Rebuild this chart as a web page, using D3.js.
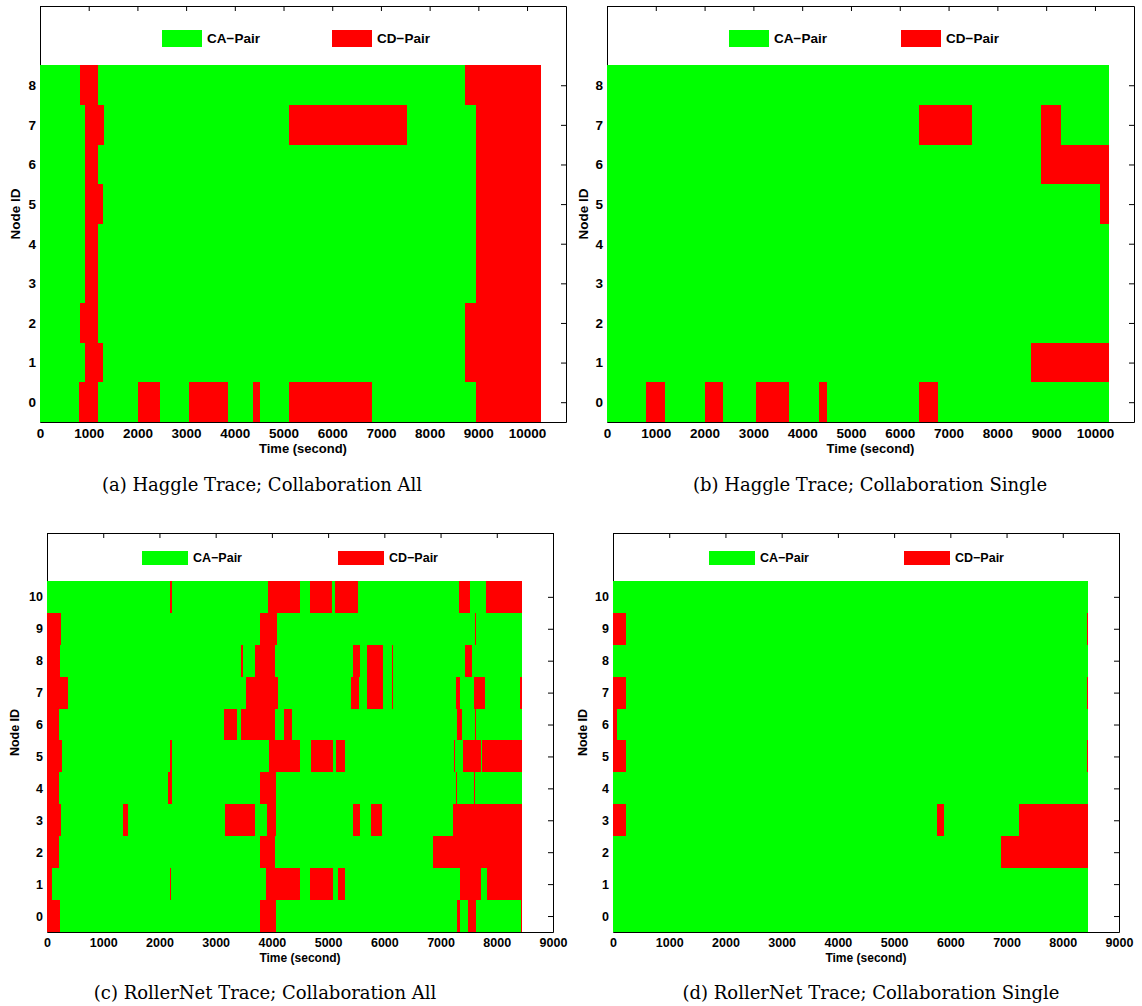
<!DOCTYPE html>
<html>
<head>
<meta charset="utf-8">
<script src="https://cdn.jsdelivr.net/npm/d3@7"></script>
<style>
  body { margin: 0; background: #fff; }
  svg { display: block; }
</style>
</head>
<body>
<svg id="fig" width="1142" height="1006"></svg>
<script>
// ---------------------------------------------------------------
// Collaboration state of each node over time.
// Every node is a CA-pair (green) for the whole trace, except the
// CD-pair intervals (red) listed below as [node, start, end] seconds.
// ---------------------------------------------------------------
const haggleNodes = d3.range(0, 9);      // node IDs 0..8
const rollerNodes = d3.range(0, 11);     // node IDs 0..10
const haggleTraceEnd = 10280;            // seconds
const rollerTraceEnd = 8445;             // seconds

const haggleXTicks = d3.range(0, 10001, 1000);
const rollerXTicks = d3.range(0, 9001, 1000);

const legendLabels = ["CA\u2212Pair", "CD\u2212Pair"];
const xAxisTitle = "Time (second)";
const yAxisTitle = "Node ID";
const captions = [
  "(a) Haggle Trace; Collaboration All",
  "(b) Haggle Trace; Collaboration Single",
  "(c) RollerNet Trace; Collaboration All",
  "(d) RollerNet Trace; Collaboration Single"
];

// (a) Haggle, collaboration with all nodes
const haggleAllCD = [
  [8, 821, 1184], [8, 8727, haggleTraceEnd],
  [7, 924, 1314], [7, 5113, 7530], [7, 8953, haggleTraceEnd],
  [6, 924, 1184], [6, 8953, haggleTraceEnd],
  [5, 924, 1294], [5, 8953, haggleTraceEnd],
  [4, 924, 1184], [4, 8953, haggleTraceEnd],
  [3, 924, 1184], [3, 8953, haggleTraceEnd],
  [2, 821, 1184], [2, 8727, haggleTraceEnd],
  [1, 924, 1294], [1, 8727, haggleTraceEnd],
  [0, 801, 1184], [0, 2012, 2464], [0, 3060, 3854], [0, 4374, 4517],
  [0, 5113, 6811], [0, 8953, haggleTraceEnd]
];

// (b) Haggle, collaboration with a single node
const haggleSingleCD = [
  [7, 6394, 7490], [7, 8904, 9312],
  [6, 8904, haggleTraceEnd],
  [5, 10108, haggleTraceEnd],
  [1, 8680, haggleTraceEnd],
  [0, 802, 1190], [0, 2008, 2374], [0, 3047, 3735], [0, 4353, 4510],
  [0, 6394, 6782]
];

// (c) RollerNet, collaboration with all nodes
const rollerAllCD = [
  [10, 2186, 2216], [10, 3933, 4497], [10, 4676, 5068], [10, 5121, 5531],
  [10, 7330, 7528], [10, 7813, rollerTraceEnd],
  [9, 0, 255], [9, 3790, 4087], [9, 7615, 7635],
  [8, 0, 238], [8, 3458, 3481], [8, 3695, 4052], [8, 5437, 5567],
  [8, 5692, 5977], [8, 6132, 6150], [8, 7439, 7564],
  [7, 0, 380], [7, 3535, 4100], [7, 5406, 5544], [7, 5692, 5977],
  [7, 6132, 6150], [7, 7280, 7349], [7, 7599, 7792], [7, 8419, rollerTraceEnd],
  [6, 0, 219], [6, 3143, 3375], [6, 3446, 4052], [6, 4212, 4355],
  [6, 7296, 7385], [6, 7617, 7635],
  [5, 0, 273], [5, 2186, 2216], [5, 3950, 4497], [5, 4693, 5085],
  [5, 5139, 5300], [5, 7242, 7258], [5, 7400, 7724], [5, 7741, rollerTraceEnd],
  [4, 0, 219], [4, 2144, 2216], [4, 3790, 4070], [4, 7282, 7296], [4, 7599, 7617],
  [3, 0, 255], [3, 1360, 1432], [3, 3161, 3695], [3, 3909, 4070],
  [3, 5442, 5567], [3, 5763, 5959], [3, 7225, rollerTraceEnd],
  [2, 0, 219], [2, 3790, 4052], [2, 6868, rollerTraceEnd],
  [1, 0, 87], [1, 2190, 2200], [1, 3891, 4497], [1, 4681, 5085],
  [1, 5175, 5300], [1, 7349, 7724], [1, 7830, rollerTraceEnd],
  [0, 0, 237], [0, 3790, 4070], [0, 7296, 7349], [0, 7492, 7635],
  [0, 8430, rollerTraceEnd]
];

// (d) RollerNet, collaboration with a single node
const rollerSingleCD = [
  [9, 0, 227], [9, 8425, rollerTraceEnd],
  [7, 0, 227], [7, 8425, rollerTraceEnd],
  [6, 0, 65],
  [5, 0, 240], [5, 8425, rollerTraceEnd],
  [3, 0, 227], [3, 5756, 5886], [3, 7216, rollerTraceEnd],
  [2, 6898, rollerTraceEnd]
];

// ---------------------------------------------------------------
// Layout and styling
// ---------------------------------------------------------------
const CA_COLOR = "#00ff00";
const CD_COLOR = "#ff0000";
const SANS = "'Liberation Sans', Arial, Helvetica, sans-serif";
const SERIF = "'DejaVu Serif', 'Liberation Serif', serif";

const panels = [
  { cd: haggleAllCD, nodes: haggleNodes, traceEnd: haggleTraceEnd, xTicks: haggleXTicks,
    xMax: 10800, yMax: 10, left: 40, top: 6, w: 526, h: 416, font: 13.5,
    legend: { dx: [122, 292], sw: 40, sh: 17, cy: 32 },
    caption: captions[0], capX: 262, capY: 491, ylabX: 15 },
  { cd: haggleSingleCD, nodes: haggleNodes, traceEnd: haggleTraceEnd, xTicks: haggleXTicks,
    xMax: 10800, yMax: 10, left: 607, top: 6, w: 527, h: 416, font: 13.5,
    legend: { dx: [122, 294], sw: 40, sh: 17, cy: 32 },
    caption: captions[1], capX: 870, capY: 491, ylabX: 583 },
  { cd: rollerAllCD, nodes: rollerNodes, traceEnd: rollerTraceEnd, xTicks: rollerXTicks,
    xMax: 9000, yMax: 12, left: 47, top: 533, w: 506, h: 399, font: 12.5,
    legend: { dx: [95, 291], sw: 46, sh: 14, cy: 25 },
    caption: captions[2], capX: 265, capY: 999, ylabX: 15 },
  { cd: rollerSingleCD, nodes: rollerNodes, traceEnd: rollerTraceEnd, xTicks: rollerXTicks,
    xMax: 9000, yMax: 12, left: 613, top: 533, w: 506, h: 399, font: 12.5,
    legend: { dx: [96, 291], sw: 46, sh: 14, cy: 25 },
    caption: captions[3], capX: 871, capY: 999, ylabX: 583 }
];

const svg = d3.select("#fig");

function styleAxis(sel, font) {
  sel.selectAll(".domain").attr("stroke", "#000").attr("stroke-width", 1);
  sel.selectAll(".tick line").attr("stroke", "#000").attr("stroke-width", 1);
  sel.selectAll(".tick text")
    .attr("fill", "#000")
    .style("font-family", SANS)
    .style("font-weight", "bold")
    .style("font-size", font + "px");
}

panels.forEach(p => {
  const g = svg.append("g").attr("transform", `translate(${p.left},${p.top})`);
  const x = d3.scaleLinear().domain([0, p.xMax]).range([0, p.w]);
  const y = d3.scaleLinear().domain([-0.5, p.yMax]).range([p.h, 0]);

  // Axes box with inward ticks on all four sides
  g.append("g").attr("transform", `translate(0,${p.h})`)
    .call(d3.axisBottom(x).tickValues(p.xTicks).tickFormat(d3.format("d"))
      .tickSizeInner(-5).tickSizeOuter(0).tickPadding(6))
    .call(s => styleAxis(s, p.font));
  g.append("g")
    .call(d3.axisTop(x).tickValues(p.xTicks).tickFormat("")
      .tickSizeInner(-5).tickSizeOuter(0))
    .call(s => styleAxis(s, p.font));
  g.append("g")
    .call(d3.axisLeft(y).tickValues(p.nodes).tickFormat(d3.format("d"))
      .tickSizeInner(-5).tickSizeOuter(0).tickPadding(4))
    .call(s => styleAxis(s, p.font));
  g.append("g").attr("transform", `translate(${p.w},0)`)
    .call(d3.axisRight(y).tickValues(p.nodes).tickFormat("")
      .tickSizeInner(-5).tickSizeOuter(0))
    .call(s => styleAxis(s, p.font));

  // CA-pair background for every node over the whole trace
  g.append("g").selectAll("rect").data(p.nodes).join("rect")
    .attr("x", x(0))
    .attr("width", x(p.traceEnd) - x(0))
    .attr("y", d => y(d + 0.5))
    .attr("height", d => y(d - 0.5) - y(d + 0.5))
    .attr("fill", CA_COLOR)
    .attr("shape-rendering", "crispEdges");

  // CD-pair intervals
  g.append("g").selectAll("rect").data(p.cd).join("rect")
    .attr("x", d => x(d[1]))
    .attr("width", d => Math.max(1, x(d[2]) - x(d[1])))
    .attr("y", d => y(d[0] + 0.5))
    .attr("height", d => y(d[0] - 0.5) - y(d[0] + 0.5))
    .attr("fill", CD_COLOR)
    .attr("shape-rendering", "crispEdges");

  // Legend
  const lg = g.append("g");
  [CA_COLOR, CD_COLOR].forEach((c, i) => {
    lg.append("rect")
      .attr("x", p.legend.dx[i]).attr("y", p.legend.cy - p.legend.sh / 2)
      .attr("width", p.legend.sw).attr("height", p.legend.sh)
      .attr("fill", c).attr("shape-rendering", "crispEdges");
    lg.append("text")
      .attr("x", p.legend.dx[i] + p.legend.sw + 5).attr("y", p.legend.cy)
      .attr("dy", "0.35em")
      .style("font-family", SANS).style("font-weight", "bold")
      .style("font-size", p.font + "px")
      .text(legendLabels[i]);
  });

  // Axis titles
  g.append("text")
    .attr("x", p.w / 2).attr("y", p.h + 26)
    .attr("dy", "0.35em").attr("text-anchor", "middle")
    .style("font-family", SANS).style("font-weight", "bold")
    .style("font-size", (p.font - 0.5) + "px")
    .text(xAxisTitle);
  svg.append("text")
    .attr("transform", `translate(${p.ylabX},${p.top + p.h / 2}) rotate(-90)`)
    .attr("dy", "0.35em").attr("text-anchor", "middle")
    .style("font-family", SANS).style("font-weight", "bold")
    .style("font-size", p.font + "px")
    .text(yAxisTitle);

  // Sub-figure caption
  svg.append("text")
    .attr("x", p.capX).attr("y", p.capY)
    .attr("text-anchor", "middle")
    .style("font-family", SERIF)
    .style("font-size", "18px")
    .text(p.caption);
});
</script>
</body>
</html>
